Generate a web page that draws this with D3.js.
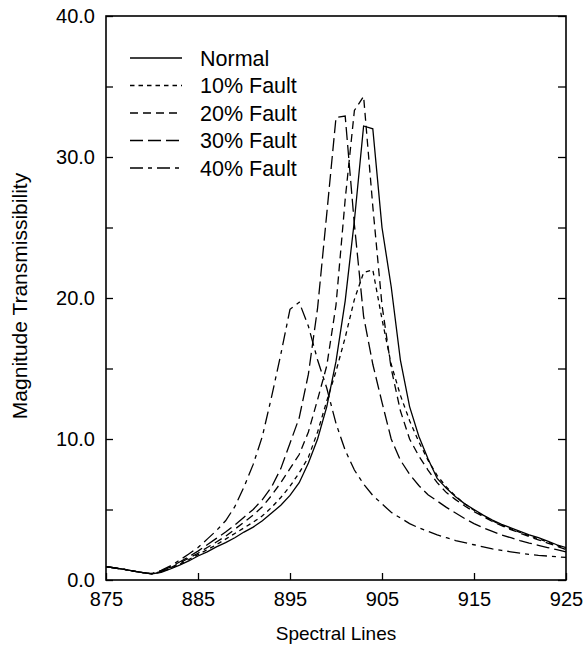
<!DOCTYPE html>
<html>
<head>
<meta charset="utf-8">
<script src="https://cdn.jsdelivr.net/npm/d3@7"></script>
<style>
  body { margin: 0; background: #fff; }
  text { font-family: "Liberation Sans", Arial, sans-serif; }
</style>
</head>
<body>
<div id="chart"></div>
<script>
// spectral line numbers (x)
const spectralLines = [875, 876, 877, 878, 879, 880, 881, 882, 883, 884, 885, 886, 887, 888, 889, 890,
    891, 892, 893, 894, 895, 896, 897, 898, 899, 900, 901, 902, 903, 904, 905, 906, 907, 908, 909, 910,
    911, 912, 913, 914, 915, 916, 917, 918, 919, 920, 921, 922, 923, 924, 925];

// magnitude transmissibility
const normal = [0.95, 0.85, 0.75, 0.63, 0.52, 0.43, 0.55, 0.78, 1.05, 1.35, 1.7, 2.0, 2.35, 2.65, 3.0, 3.4,
    3.75, 4.2, 4.75, 5.3, 6.0, 6.9, 8.3, 10.0, 12.3, 15.5, 19.8, 25.5, 32.2, 32.0, 25.0, 20.8, 15.6, 12.3, 10.2, 8.6,
    7.2, 6.5, 5.9, 5.4, 5.0, 4.6, 4.25, 3.95, 3.7, 3.45, 3.2, 3.0, 2.75, 2.5, 2.3];
const fault10 = [0.95, 0.85, 0.75, 0.63, 0.52, 0.43, 0.57, 0.82, 1.12, 1.45, 1.8, 2.15, 2.5, 2.9, 3.3, 3.7,
    4.1, 4.55, 5.15, 5.85, 6.65, 7.6, 8.7, 10.5, 12.7, 14.8, 17.2, 19.9, 21.8, 22.0, 18.5, 15.3, 13.1, 11.3, 9.8, 8.5,
    7.4, 6.6, 5.95, 5.4, 4.95, 4.55, 4.2, 3.9, 3.62, 3.38, 3.15, 2.92, 2.7, 2.45, 2.25];
const fault20 = [0.95, 0.85, 0.75, 0.63, 0.52, 0.44, 0.6, 0.87, 1.2, 1.55, 1.9, 2.3, 2.7, 3.1, 3.6, 4.1,
    4.6, 5.2, 6.0, 6.9, 7.9, 8.9, 10.5, 12.8, 15.2, 19.5, 27.0, 33.3, 34.3, 26.5, 19.5, 15.0, 12.0, 10.0, 8.8, 7.8,
    6.9, 6.2, 5.7, 5.25, 4.85, 4.5, 4.15, 3.85, 3.58, 3.33, 3.08, 2.85, 2.62, 2.4, 2.15];
const fault30 = [0.95, 0.85, 0.75, 0.63, 0.52, 0.45, 0.63, 0.92, 1.28, 1.65, 2.05, 2.5, 2.95, 3.4, 3.9, 4.45,
    5.0, 5.7, 6.6, 7.9, 9.7, 11.5, 14.6, 19.3, 26.0, 32.8, 32.9, 25.2, 18.7, 15.3, 12.6, 10.0, 8.5, 7.5, 6.7, 6.05,
    5.6, 5.15, 4.75, 4.35, 4.0, 3.7, 3.45, 3.2, 3.0, 2.8, 2.62, 2.46, 2.3, 2.15, 2.0];
const fault40 = [0.95, 0.85, 0.75, 0.63, 0.53, 0.46, 0.68, 1.0, 1.4, 1.85, 2.3, 2.9, 3.5, 4.2, 5.2, 6.6,
    8.2, 10.2, 13.0, 16.0, 19.2, 19.7, 18.0, 15.6, 13.6, 11.1, 9.2, 7.8, 6.8, 6.0, 5.4, 4.8, 4.4, 4.0, 3.7, 3.45,
    3.2, 3.0, 2.8, 2.65, 2.5, 2.35, 2.2, 2.1, 2.0, 1.9, 1.82, 1.75, 1.7, 1.65, 1.6];

const seriesNames = ["Normal", "10% Fault", "20% Fault", "30% Fault", "40% Fault"];
const seriesValues = [normal, fault10, fault20, fault30, fault40];
const dashes = ["none", "4.5,4", "8,5", "13,5", "13,5,4,5"];

const xTicks = [875, 885, 895, 905, 915, 925];
const yTicks = [0, 10, 20, 30, 40];
const yMinorTicks = [0, 5, 10, 15, 20, 25, 30, 35, 40];

const margin = { top: 16, right: 19, bottom: 67, left: 106 },
    W = 585, H = 647,
    width = W - margin.left - margin.right,
    height = H - margin.top - margin.bottom;

const svg = d3.select("#chart").append("svg")
    .attr("width", W)
    .attr("height", H)
    .append("g")
    .attr("transform", `translate(${margin.left},${margin.top})`);

const x = d3.scaleLinear().domain([875, 925]).range([0, width]);
const y = d3.scaleLinear().domain([0, 40]).range([height, 0]);

// x axis, ticks pointing inward
svg.append("g")
    .attr("transform", `translate(0,${height})`)
    .call(d3.axisBottom(x).tickValues(xTicks).tickSize(-7).tickPadding(12).tickFormat(d3.format("d")))
    .call(g => g.select(".domain").remove())
    .selectAll("text").attr("font-size", 20).attr("fill", "#000");

// y axis labels
svg.append("g")
    .call(d3.axisLeft(y).tickValues(yTicks).tickSize(0).tickPadding(11).tickFormat(d3.format(".1f")))
    .call(g => g.select(".domain").remove())
    .selectAll("text").attr("font-size", 20).attr("fill", "#000");

// minor ticks left and right
svg.append("g")
    .call(d3.axisLeft(y).tickValues(yMinorTicks).tickSize(-7).tickFormat(""))
    .call(g => g.select(".domain").remove());
svg.append("g")
    .attr("transform", `translate(${width},0)`)
    .call(d3.axisRight(y).tickValues(yMinorTicks).tickSize(-8).tickFormat(""))
    .call(g => g.select(".domain").remove());

svg.selectAll(".tick line").attr("stroke", "#000").attr("stroke-width", 1.3);

// frame
svg.append("rect")
    .attr("width", width)
    .attr("height", height)
    .attr("fill", "none")
    .attr("stroke", "#000")
    .attr("stroke-width", 1.6);

const line = d3.line()
    .x((d, i) => x(spectralLines[i]))
    .y(d => y(d));

svg.selectAll(".series")
    .data(seriesValues)
    .enter()
    .append("path")
    .attr("class", "series")
    .attr("d", d => line(d))
    .attr("fill", "none")
    .attr("stroke", "#000")
    .attr("stroke-width", 1.3)
    .attr("stroke-dasharray", (d, i) => dashes[i]);

// legend
const legend = svg.append("g").attr("transform", "translate(24,42)");
seriesNames.forEach((name, i) => {
    legend.append("line")
        .attr("x1", 0).attr("x2", 52)
        .attr("y1", i * 27.5).attr("y2", i * 27.5)
        .attr("stroke", "#000")
        .attr("stroke-width", 1.3)
        .attr("stroke-dasharray", dashes[i]);
    legend.append("text")
        .attr("x", 70)
        .attr("y", i * 27.5)
        .attr("dy", "0.35em")
        .attr("font-size", 21.5)
        .text(name);
});

// axis titles
svg.append("text")
    .attr("x", width / 2)
    .attr("y", height + 60)
    .attr("text-anchor", "middle")
    .attr("font-size", 19)
    .text("Spectral Lines");

svg.append("text")
    .attr("transform", "rotate(-90)")
    .attr("x", -height / 2 + 2)
    .attr("y", -79)
    .attr("text-anchor", "middle")
    .attr("font-size", 21)
    .text("Magnitude Transmissibility");
</script>
</body>
</html>
